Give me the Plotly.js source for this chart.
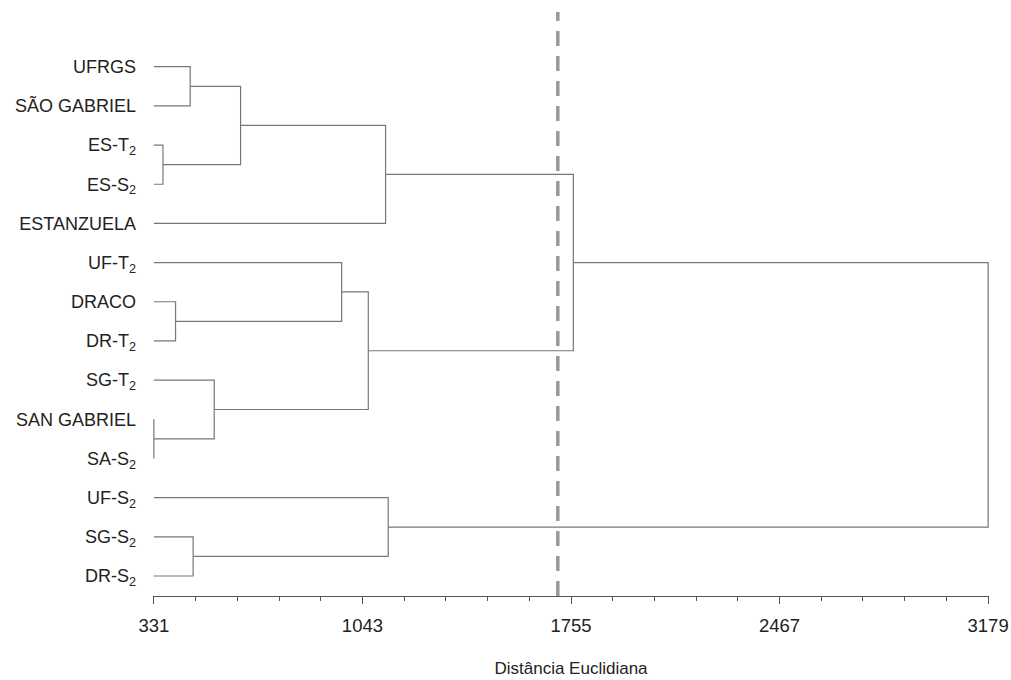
<!DOCTYPE html>
<html>
<head>
<meta charset="utf-8">
<script src="https://cdn.plot.ly/plotly-3.0.1.min.js"></script>
<style>html,body{margin:0;padding:0;background:#fff;}#chart{width:1011px;height:680px;}</style>
</head>
<body>
<div id="chart"></div>
<script>
// Leaves, top to bottom
const leafLabels = ['UFRGS', 'SÃO GABRIEL', 'ES-T<sub>2</sub>', 'ES-S<sub>2</sub>', 'ESTANZUELA',
  'UF-T<sub>2</sub>', 'DRACO', 'DR-T<sub>2</sub>', 'SG-T<sub>2</sub>', 'SAN GABRIEL',
  'SA-S<sub>2</sub>', 'UF-S<sub>2</sub>', 'SG-S<sub>2</sub>', 'DR-S<sub>2</sub>'];
// Merges: node ids (0..13 leaves, 14+ clusters in order of creation)
const mergeLeft   = [9, 2, 6, 0, 12, 8, 17, 5, 21, 20, 11, 23, 25];
const mergeRight  = [10, 3, 7, 1, 13, 14, 15, 16, 19, 4, 18, 22, 24];
const mergeHeight = [331, 362, 405, 455, 465, 537, 627, 972, 1063, 1122, 1131, 1763, 3179];
// Axis
const tickValues = [331, 1043, 1755, 2467, 3179];
const tickLabels = ['331', '1043', '1755', '2467', '3179'];
const cutoffDistance = 1710;
const axisTitle = 'Distância Euclidiana';

const minDist = 331;
const nodeX = [], nodeY = [];
leafLabels.forEach((l, i) => { nodeX.push(minDist); nodeY.push(i); });
const lx = [], ly = [];
for (let k = 0; k < mergeHeight.length; k++) {
  const a = mergeLeft[k], b = mergeRight[k], h = mergeHeight[k];
  lx.push(nodeX[a], h, h, nodeX[b], null);
  ly.push(nodeY[a], nodeY[a], nodeY[b], nodeY[b], null);
  nodeX.push(h);
  nodeY.push((nodeY[a] + nodeY[b]) / 2);
}

const traces = [{
  type: 'scatter', mode: 'lines', x: lx, y: ly,
  line: {color: '#777', width: 1.2}, hoverinfo: 'skip', showlegend: false
}];

const font = 'Liberation Sans, Arial, sans-serif';
const layout = {
  width: 1011, height: 680,
  margin: {l: 153.1, r: 22.1, t: 10, b: 84},
  paper_bgcolor: '#fff', plot_bgcolor: '#fff',
  showlegend: false,
  xaxis: {
    range: [328, 3182], showgrid: false, zeroline: false,
    showline: true, linecolor: '#555', linewidth: 1,
    tickmode: 'array', tickvals: tickValues, ticktext: tickLabels,
    ticks: 'outside', ticklen: 7, tickcolor: '#555', tickwidth: 1,
    minor: {tickmode: 'linear', tick0: 331, dtick: 142.4, ticks: 'outside', ticklen: 4, tickcolor: '#555', tickwidth: 1, showgrid: false},
    tickfont: {family: font, size: 18.5, color: '#222'},
    ticklabelstandoff: 6,
    title: {text: axisTitle, font: {family: font, size: 17, color: '#222'}, standoff: 26}
  },
  yaxis: {
    range: [13.51, -1.447], showgrid: false, zeroline: false, showline: false,
    tickmode: 'array', tickvals: leafLabels.map((l, i) => i), ticktext: leafLabels,
    ticks: '', ticklabelstandoff: 16,
    tickfont: {family: font, size: 18, color: '#222'}
  },
  shapes: [{
    type: 'line', xref: 'x', yref: 'paper', x0: cutoffDistance, x1: cutoffDistance, y0: 0, y1: 0.9966,
    line: {color: '#999', width: 3.5, dash: '15px,10px'}
  }]
};
Plotly.newPlot('chart', traces, layout, {displayModeBar: false, staticPlot: true});
</script>
</body>
</html>
